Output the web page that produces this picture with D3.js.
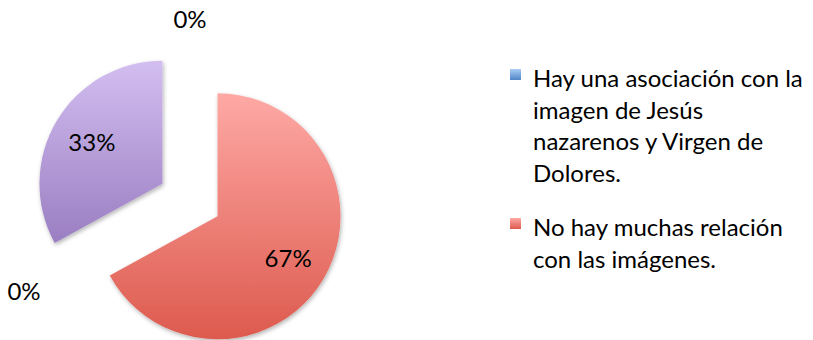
<!DOCTYPE html>
<html>
<head>
    <meta charset="utf-8">
    <title>Pie</title>
    <script src="https://d3js.org/d3.v7.min.js"></script>
    <style>
        body { margin: 0; background: #fff; }
        svg text { font-family: Lato, "Open Sans", sans-serif; fill: #000; }
    </style>
</head>
<body>
    <div id="chart"></div>
    <script>
        // slice order as in the source sheet (two empty categories)
        const categories = ["Hay una asociación", "No hay muchas relación", "Serie 3", "Serie 4"];
        const values = [0, 67, 0, 33];
        const legendLines = [
            ["Hay una asociación con la", "imagen de Jesús", "nazarenos y Virgen de", "Dolores."],
            ["No hay muchas relación", "con las imágenes."]
        ];
        const gradTop = ["#a9ccf6", "#fea9a5", "#bbd98a", "#d3bef0"];
        const gradBottom = ["#4f86c6", "#dd5a4e", "#8fb04f", "#9a7ec2"];

        const width = 813, height = 340;
        const cx = 190, cy = 200, radius = 123, explode = 32;

        const svg = d3.select('#chart').append('svg')
            .attr('width', width)
            .attr('height', height);

        const defs = svg.append('defs');
        categories.forEach((c, i) => {
            const g = defs.append('linearGradient')
                .attr('id', 'grad' + i)
                .attr('x1', 0).attr('y1', 0).attr('x2', 0).attr('y2', 1);
            g.append('stop').attr('offset', '0%').attr('stop-color', gradTop[i]);
            g.append('stop').attr('offset', '100%').attr('stop-color', gradBottom[i]);
        });
        defs.append('filter')
            .attr('id', 'shadow')
            .attr('x', '-20%').attr('y', '-20%').attr('width', '140%').attr('height', '140%')
            .append('feDropShadow')
            .attr('dx', 1).attr('dy', 2).attr('stdDeviation', 2)
            .attr('flood-color', '#000').attr('flood-opacity', 0.3);

        const total = d3.sum(values);
        const pie = d3.pie().sort(null).value(d => d);
        const arcs = pie(values);
        const arc = d3.arc().innerRadius(0).outerRadius(radius);

        const mid = d => (d.startAngle + d.endAngle) / 2;
        const offset = (d, r) => [Math.sin(mid(d)) * r, -Math.cos(mid(d)) * r];

        const g = svg.append('g').attr('transform', `translate(${cx},${cy})`);

        g.selectAll('path')
            .data(arcs.filter(d => d.value > 0))
            .enter().append('path')
            .attr('transform', d => `translate(${offset(d, explode)})`)
            .attr('d', arc)
            .attr('fill', d => `url(#grad${d.index})`)
            .attr('filter', 'url(#shadow)');

        const labels = g.selectAll('text.pct')
            .data(arcs)
            .enter().append('text')
            .attr('class', 'pct')
            .attr('text-anchor', 'middle')
            .attr('dy', '0.36em')
            .style('font-size', '24px')
            .text(d => Math.round(d.value / total * 100) + '%');

        // inside labels near the slice middle, empty slices get an outside label
        labels.attr('transform', function(d) {
            if (d.value > 0) return `translate(${offset(d, explode + 82)})`;
            const b = this.getBBox();
            const a = mid(d);
            const reach = Math.abs(Math.sin(a)) * b.width / 2 + Math.abs(Math.cos(a)) * b.height / 2 * 0.7;
            return `translate(${offset(d, 170 + reach)})`;
        });

        // legend
        const legend = svg.append('g').attr('transform', 'translate(510,0)');
        let y = 87;
        legendLines.forEach((lines, i) => {
            legend.append('rect')
                .attr('x', 0).attr('y', y - 18)
                .attr('width', 11).attr('height', 11)
                .attr('fill', `url(#grad${i})`);
            lines.forEach((t, j) => {
                legend.append('text')
                    .attr('x', 23).attr('y', y + j * 31.5)
                    .style('font-size', '24px')
                    .text(t);
            });
            y += lines.length * 31.5 + 23;
        });
    </script>
</body>
</html>
